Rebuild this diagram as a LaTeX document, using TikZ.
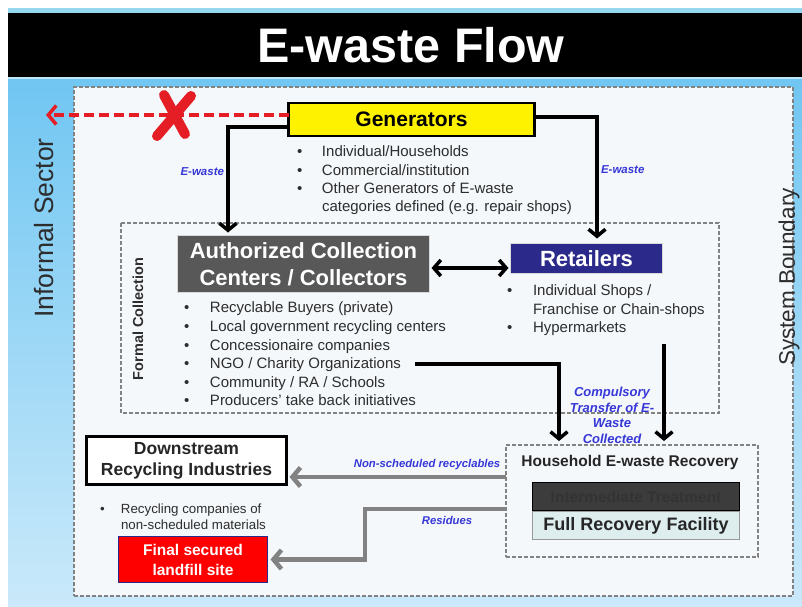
\documentclass[tikz,border=0pt]{standalone}
\usepackage{fontspec}
\setmainfont{Liberation Sans}
\usetikzlibrary{arrows.meta}
\definecolor{bgtop}{RGB}{112,198,242}
\definecolor{bgbot}{RGB}{202,233,250}
\definecolor{bandline}{RGB}{150,215,240}
\definecolor{panel}{RGB}{244,248,251}
\definecolor{lblue}{RGB}{55,55,215}
\definecolor{navy}{RGB}{43,42,138}
\definecolor{dgray}{RGB}{88,88,88}
\definecolor{txt}{RGB}{45,45,45}
\definecolor{xred}{RGB}{228,30,36}
\definecolor{arrgray}{RGB}{130,130,130}
\definecolor{paleteal}{RGB}{222,238,239}
\definecolor{dashgray}{RGB}{130,130,130}
\definecolor{treat}{RGB}{60,60,60}
\begin{document}
\begin{tikzpicture}[x=1pt,y=-1pt,
  every node/.style={inner sep=0pt, outer sep=0pt},
  blk/.style={line width=3.5pt, line join=miter, shorten >=2pt,
    -{Straight Barb[length=7pt,width=17pt]}},
  dbl/.style={line width=3.5pt, shorten >=2pt, shorten <=2pt,
    {Straight Barb[length=7pt,width=16pt]}-{Straight Barb[length=7pt,width=16pt]}},
  garr/.style={line width=4.5pt, draw=arrgray, line join=miter, shorten >=3pt,
    -{Straight Barb[length=8pt,width=19pt]}},
  redarr/.style={line width=3.5pt, draw=xred, dash pattern=on 10pt off 5pt,
    -{Straight Barb[length=8pt,width=19pt]}},
  frame/.style={draw=dashgray, line width=1.1pt, dash pattern=on 4pt off 2pt},
  flowlabel/.style={text=lblue, font=\fontsize{11.5}{13}\selectfont\bfseries\itshape},
  bullets/.style={anchor=north west, align=left, text=txt},
  side/.style={rotate=90, text=txt}
]
\useasboundingbox (0,0) rectangle (802,606);

% page background and title band
\fill[white] (0,0) rectangle (802,606);
\fill[top color=bgtop, bottom color=bgbot] (8,78) rectangle (802,606);
\fill[bandline] (8,8) rectangle (802,13);
\fill[black] (8,13) rectangle (802,77);
\fill[bandline!60!white] (8,77) rectangle (802,79);
\node[text=white, font=\fontsize{48.5}{52}\selectfont\bfseries] (title) at (411,45) {E-waste Flow};

% system boundary
\node[frame, fill=panel, minimum width=719pt, minimum height=509pt] (sys) at (433.5,341.5) {};
\node[side, font=\fontsize{26.5}{30}\selectfont] (informal) at (44,228) {Informal Sector};
\node[side, font=\fontsize{22.5}{26}\selectfont] (sysb) at (789,277) {System Boundary};

% generators
\node[draw=black, line width=2.5pt, fill=yellow, minimum width=246pt, minimum height=33pt,
  font=\fontsize{21}{24}\selectfont\bfseries] (gen) at (411.5,119.5) {Generators};
\node[bullets, font=\fontsize{15}{18.3}\selectfont] (genlist) at (297,146)
  {\makebox[25pt][l]{\textbullet}Individual/Households\\
   \makebox[25pt][l]{\textbullet}Commercial/institution\\
   \makebox[25pt][l]{\textbullet}Other Generators of E-waste\\
   \hspace*{25pt}categories defined (e.g. repair shops)};

% blocked route to the informal sector
\coordinate (inf) at (46,115);
\draw[redarr] (gen.west |- 0,115) -- (inf);
\draw[xred, line width=10pt, line cap=round] (164,95) -- (185,134);
\draw[xred, line width=10pt, line cap=round] (191,96) -- (157,136);

% formal collection
\draw[frame, fill=panel] (121,223) rectangle (719,413);
\node[rotate=90, text=txt, font=\fontsize{14.5}{16}\selectfont\bfseries] (formal) at (138,319) {Formal Collection};

\node[fill=dgray, draw=black!15, line width=1pt, minimum width=252pt, minimum height=57pt,
  align=center, text=white, font=\fontsize{22}{27}\selectfont\bfseries] (acc) at (303.5,264)
  {Authorized Collection\\Centers / Collectors};
\node[bullets, font=\fontsize{15}{18.6}\selectfont] (acclist) at (184,302)
  {\makebox[26pt][l]{\textbullet}Recyclable Buyers (private)\\
   \makebox[26pt][l]{\textbullet}Local government recycling centers\\
   \makebox[26pt][l]{\textbullet}Concessionaire companies\\
   \makebox[26pt][l]{\textbullet}NGO / Charity Organizations\\
   \makebox[26pt][l]{\textbullet}Community / RA / Schools\\
   \makebox[26pt][l]{\textbullet}Producers' take back initiatives};

\node[fill=navy, draw=black!15, line width=1pt, minimum width=152pt, minimum height=30pt,
  text=white, font=\fontsize{22}{24}\selectfont\bfseries] (ret) at (586.5,258.5) {Retailers};
\node[bullets, font=\fontsize{15}{18.5}\selectfont] (retlist) at (507,285)
  {\makebox[26pt][l]{\textbullet}Individual Shops /\\
   \hspace*{26pt}Franchise or Chain-shops\\
   \makebox[26pt][l]{\textbullet}Hypermarkets};

% generator flows
\node[flowlabel, anchor=east] (lew) at (224,172) {E-waste};
\node[flowlabel, anchor=west] (rew) at (601,170) {E-waste};
\draw[blk] ([yshift=-7.5pt]gen.west) -| ([xshift=-75.5pt,yshift=1pt]acc.north);
\draw[blk] ([yshift=2.5pt]gen.east) -| ([xshift=10.5pt,yshift=3pt]ret.north);
\draw[dbl] (acc.east |- 0,268) -- (ret.west |- 0,268);

% household recovery
\node[frame, fill=panel, minimum width=252pt, minimum height=112pt] (hh) at (632,501) {};
\node[font=\fontsize{15.5}{17}\selectfont\bfseries, text=black!85] (hhtitle) at (630,462) {Household E-waste Recovery};
\node[draw=black, line width=1.8pt, fill=treat, minimum width=207pt, minimum height=28pt,
  text=black!80, font=\fontsize{15.5}{17}\selectfont\bfseries] (it) at (636,496.5) {Intermediate Treatment};
\node[draw=black!40, line width=1pt, fill=paleteal, minimum width=207pt, minimum height=28pt,
  text=black!85, font=\fontsize{18}{20}\selectfont\bfseries] (frf) at (636,525.5) {Full Recovery Facility};

% compulsory transfer
\coordinate (ngo) at (415,364);
\coordinate (retdown) at (664,344);
\draw[blk] (ngo) -| ([xshift=-73pt,yshift=2pt]hh.north);
\draw[blk] (retdown) -- ([yshift=2pt]retdown |- hh.north);
\node[text=lblue, align=center, font=\fontsize{13}{15.5}\selectfont\bfseries\itshape] (cmp) at (612,415.5)
  {Compulsory\\Transfer of E-\\Waste\\Collected};

% downstream and disposal
\node[draw=black, line width=3pt, fill=white, minimum width=200pt, minimum height=48pt,
  align=center, font=\fontsize{17.5}{21}\selectfont\bfseries, text=black!85] (ds) at (186.5,460.5)
  {Downstream\\Recycling Industries};
\node[bullets, font=\fontsize{13.3}{16}\selectfont] (dslist) at (100,504)
  {\makebox[21pt][l]{\textbullet}Recycling companies of\\
   \hspace*{21pt}non-scheduled materials};
\node[draw=navy, line width=1.5pt, fill=red, minimum width=149pt, minimum height=46pt,
  align=center, text=white, font=\fontsize{15.5}{20}\selectfont\bfseries] (lf) at (193,559.5)
  {Final secured\\landfill site};

\coordinate (nsA) at (506,477);
\coordinate (resA) at (506,509);
\coordinate (resB) at (365,559.5);
\draw[garr] (nsA) -- (ds.east |- nsA);
\draw[garr] (resA) -| (resB) -- (lf.east);
\node[flowlabel, font=\fontsize{11.3}{13}\selectfont\bfseries\itshape] (nsl) at (427,465) {Non-scheduled recyclables};
\node[flowlabel, font=\fontsize{11.3}{13}\selectfont\bfseries\itshape] (resl) at (447,520) {Residues};
\end{tikzpicture}
\end{document}
